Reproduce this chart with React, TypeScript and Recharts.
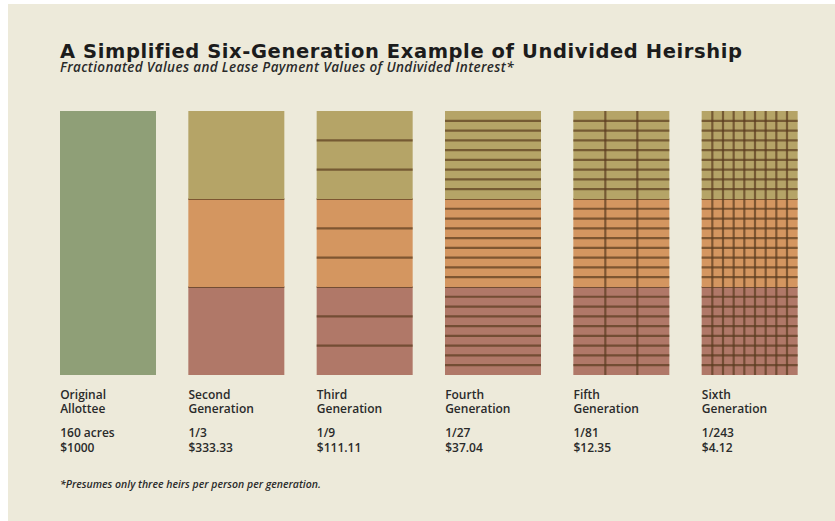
import React from "react";
import { BarChart, Bar, XAxis, YAxis } from "recharts";

// one column per generation
const nameLine1 = ["Original", "Second", "Third", "Fourth", "Fifth", "Sixth"];
const nameLine2 = ["Allottee", "Generation", "Generation", "Generation", "Generation", "Generation"];
const shareLabels = ["160 acres", "1/3", "1/9", "1/27", "1/81", "1/243"];
const paymentLabels = ["$1000", "$333.33", "$111.11", "$37.04", "$12.35", "$4.12"];

// acres: the original allotment, then each of the three first-generation heirs' lines
const wholeAcres = [160, 0, 0, 0, 0, 0];
const heirAAcres = [0, 53.33, 53.33, 53.33, 53.33, 53.33];
const heirBAcres = [0, 53.33, 53.33, 53.33, 53.33, 53.33];
const heirCAcres = [0, 53.34, 53.34, 53.34, 53.34, 53.34];

// how each heir's third is split further: rows x columns of owners
const rowsPerHeir = [1, 1, 3, 9, 9, 9];
const columnsPerHeir = [1, 1, 1, 1, 3, 9];

const BG = "#edeada";
const GREEN = "#8f9f77";
const OLIVE = "#b5a467";
const ORANGE = "#d49660";
const BROWN = "#b07868";
const LINE = "#5a3a1e";

const data = nameLine1.map((name, i) => ({
  name,
  whole: wholeAcres[i],
  heirA: heirAAcres[i],
  heirB: heirBAcres[i],
  heirC: heirCAcres[i],
  rows: rowsPerHeir[i],
  cols: columnsPerHeir[i],
}));

const makeShape = (topLine: boolean) => (props: any) => {
  const { x, y, width, height, fill, payload } = props;
  if (!height || height <= 0) return null;
  const rows = payload.rows || 1;
  const cols = payload.cols || 1;
  const lines: React.ReactNode[] = [];
  if (topLine) {
    lines.push(<line key="t" x1={x} x2={x + width} y1={y} y2={y} />);
  }
  for (let r = 1; r < rows; r++) {
    const yy = y + (height * r) / rows;
    lines.push(<line key={"r" + r} x1={x} x2={x + width} y1={yy} y2={yy} />);
  }
  for (let c = 1; c < cols; c++) {
    const xx = x + (width * c) / cols;
    lines.push(<line key={"c" + c} x1={xx} x2={xx} y1={y} y2={y + height} />);
  }
  return (
    <g>
      <rect x={x} y={y} width={width} height={height} fill={fill} />
      <g stroke={LINE} strokeWidth={2.2} strokeOpacity={0.7}>
        {lines}
      </g>
    </g>
  );
};

const GenTick = (props: any) => {
  const { x, y, payload } = props;
  const i = payload.index;
  const left = x - 48;
  const style = { fontSize: 12, fontWeight: 600, fill: "#2a2a2a" };
  return (
    <g>
      <text x={left} y={y + 24} {...style}>{nameLine1[i]}</text>
      <text x={left} y={y + 38} {...style}>{nameLine2[i]}</text>
      <text x={left} y={y + 62} {...style}>{shareLabels[i]}</text>
      <text x={left} y={y + 77} {...style}>{paymentLabels[i]}</text>
    </g>
  );
};

export default function App() {
  const W = 827;
  const H = 517;
  return (
    <div
      style={{
        position: "absolute",
        left: 8,
        top: 4,
        width: W,
        height: H,
        background: BG,
        fontFamily: '"Open Sans", sans-serif',
      }}
    >
      <BarChart
        width={W}
        height={H}
        data={data}
        margin={{ top: 107, right: 21, bottom: 0, left: 36 }}
        barSize={96}
      >
        <XAxis
          dataKey="name"
          axisLine={false}
          tickLine={false}
          tickSize={0}
          tickMargin={0}
          height={146}
          interval={0}
          tick={<GenTick />}
        />
        <YAxis hide domain={[0, 160]} />
        <Bar dataKey="whole" stackId="s" fill={GREEN} shape={makeShape(false)} isAnimationActive={false} />
        <Bar dataKey="heirC" stackId="s" fill={BROWN} shape={makeShape(true)} isAnimationActive={false} />
        <Bar dataKey="heirB" stackId="s" fill={ORANGE} shape={makeShape(true)} isAnimationActive={false} />
        <Bar dataKey="heirA" stackId="s" fill={OLIVE} shape={makeShape(false)} isAnimationActive={false} />
      </BarChart>
      <svg
        width={W}
        height={H}
        style={{ position: "absolute", left: 0, top: 0, pointerEvents: "none" }}
      >
        <text
          x={52}
          y={54}
          fontSize={19.5}
          fontWeight={700}
          fill="#1c1c1c"
          fontFamily='"DejaVu Sans", sans-serif'
          letterSpacing={0.6}
        >
          A Simplified Six-Generation Example of Undivided Heirship
        </text>
        <text
          x={52}
          y={68}
          fontSize={13.5}
          fontWeight={600}
          fontStyle="italic"
          fill="#2a2a2a"
          fontFamily='"Open Sans", sans-serif'
          letterSpacing={0.35}
        >
          Fractionated Values and Lease Payment Values of Undivided Interest*
        </text>
        <text x={52} y={484} fontSize={10.5} fontWeight={600} fontStyle="italic" fill="#2a2a2a">
          *Presumes only three heirs per person per generation.
        </text>
      </svg>
    </div>
  );
}
